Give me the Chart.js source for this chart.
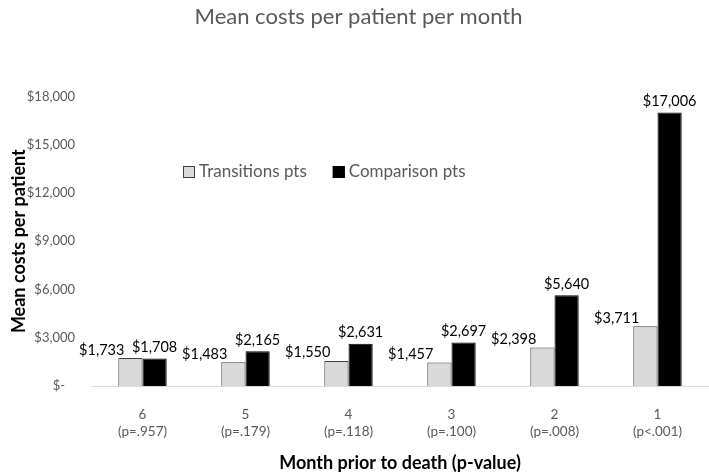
<!DOCTYPE html>
<html><head><meta charset="utf-8">
<script src="https://cdn.jsdelivr.net/npm/chart.js@4/dist/chart.umd.min.js"></script>
<style>html,body{margin:0;padding:0;background:#fff}#wrap{width:709px;height:476px}</style>
</head><body><div id="wrap"><canvas id="c" width="709" height="476"></canvas></div>
<script>
const months = ["6","5","4","3","2","1"];
const pValues = ["(p=.957)","(p=.179)","(p=.118)","(p=.100)","(p=.008)","(p<.001)"];
const transitionsPts = [1733,1483,1550,1457,2398,3711];
const comparisonPts = [1708,2165,2631,2697,5640,17006];
const yTicks = [0,3000,6000,9000,12000,15000,18000];

const FONT = "Lato, 'Open Sans', sans-serif";
const fmt = v => "$" + v.toLocaleString("en-US");

const legendPlugin = {
  id: 'customLegend',
  afterDraw(chart) {
    const ctx = chart.ctx;
    ctx.save();
    ctx.font = "17px " + FONT;
    ctx.textBaseline = 'middle';
    ctx.textAlign = 'left';
    const y = 172;
    let x = 183;
    chart.data.datasets.forEach((ds, i) => {
      ctx.fillStyle = ds.backgroundColor;
      ctx.strokeStyle = ds.borderColor;
      ctx.lineWidth = 1;
      ctx.fillRect(x, y - 6, 12, 12);
      ctx.strokeRect(x + 0.5, y - 5.5, 11, 11);
      ctx.fillStyle = '#595959';
      ctx.fillText(ds.label, x + 16, y);
      x += 16 + ctx.measureText(ds.label).width + 26;
    });
    ctx.restore();
  }
};

const labelPlugin = {
  id: 'valueLabels',
  afterDatasetsDraw(chart) {
    const ctx = chart.ctx;
    ctx.save();
    ctx.font = "14.5px " + FONT;
    ctx.fillStyle = '#000';
    ctx.textBaseline = 'bottom';
    chart.data.datasets.forEach((ds, di) => {
      const meta = chart.getDatasetMeta(di);
      meta.data.forEach((bar, i) => {
        const txt = fmt(ds.data[i]);
        if (di === 0) {
          ctx.textAlign = 'right';
          ctx.fillText(txt, bar.x - 6, bar.y - 1);
        } else {
          ctx.textAlign = 'center';
          ctx.fillText(txt, bar.x, bar.y - 4);
        }
      });
    });
    ctx.restore();
  }
};

new Chart(document.getElementById('c'), {
  type: 'bar',
  data: {
    labels: months.map((m, i) => [m, pValues[i]]),
    datasets: [
      { label: 'Transitions pts', data: transitionsPts, backgroundColor: '#d9d9d9', borderColor: '#404040', borderWidth: 1, borderSkipped: 'bottom' },
      { label: 'Comparison pts', data: comparisonPts, backgroundColor: '#000000', borderColor: '#000000', borderWidth: 1, borderSkipped: 'bottom' }
    ]
  },
  options: {
    responsive: false,
    animation: false,
    devicePixelRatio: 1,
    layout: { padding: { left: 8, right: 0, top: 0, bottom: 2 } },
    datasets: { bar: { categoryPercentage: 0.47, barPercentage: 1.0 } },
    plugins: {
      legend: { display: false },
      tooltip: { enabled: false },
      title: {
        display: true,
        text: 'Mean costs per patient per month',
        color: '#595959',
        font: { family: FONT, size: 22, weight: 'normal' },
        padding: { top: 4, bottom: 66 }
      }
    },
    scales: {
      x: {
        grid: { display: false },
        border: { display: true, color: '#d9d9d9', width: 1 },
        ticks: { color: '#595959', font: { family: FONT, size: 13.5 }, padding: 13, maxRotation: 0 },
        title: { display: true, text: 'Month prior to death (p-value)', color: '#000', font: { family: FONT, size: 18, weight: 'bold' }, padding: { top: 0, bottom: 0 } }
      },
      y: {
        min: 0, max: 18000,
        afterBuildTicks(scale) { scale.ticks = yTicks.map(v => ({ value: v })); },
        grid: { display: false },
        border: { display: false },
        ticks: {
          color: '#595959', font: { family: FONT, size: 13 }, padding: 8,
          callback: v => v === 0 ? "$-   " : fmt(v)
        },
        title: { display: true, text: 'Mean costs per patient', color: '#000', font: { family: FONT, size: 18, weight: 'bold' }, padding: { top: 0, bottom: 4 } },
        afterFit(scale) { scale.width = 83; }
      }
    }
  },
  plugins: [legendPlugin, labelPlugin]
});
</script>
</body></html>
